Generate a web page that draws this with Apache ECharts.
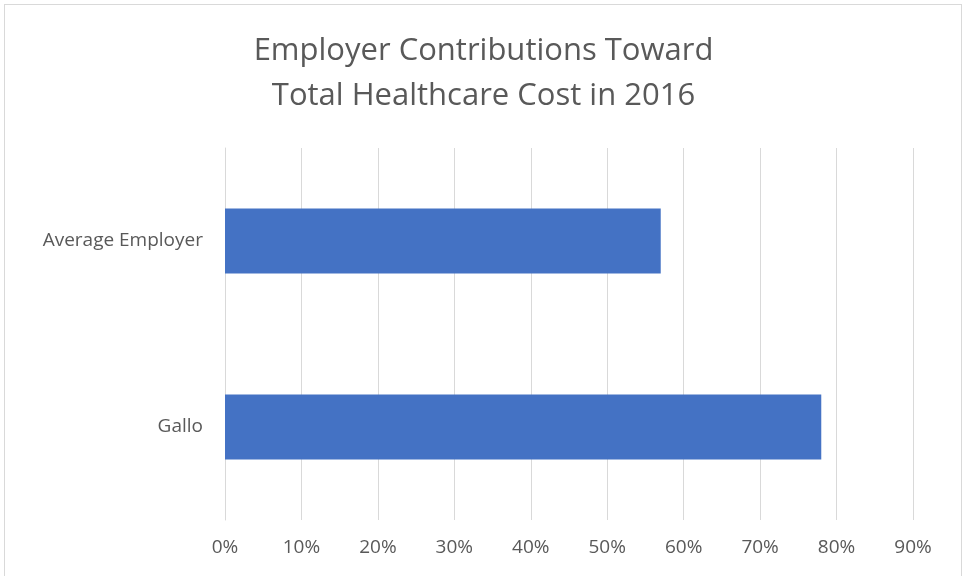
<!DOCTYPE html>
<html>
<head>
<meta charset="utf-8">
<script src="https://cdn.jsdelivr.net/npm/echarts@6/dist/echarts.min.js"></script>
<style>
html,body{margin:0;padding:0;background:#fff;}
#frame{position:absolute;left:4px;top:4px;width:958px;height:600px;border:1.5px solid #d9d9d9;box-sizing:border-box;}
#chart{position:absolute;left:0;top:0;width:967px;height:576px;}
</style>
</head>
<body>
<div id="frame"></div>
<div id="chart"></div>
<script>
const titleLines = ['Employer Contributions Toward', 'Total Healthcare Cost in 2016'];
const categories = ['Average Employer', 'Gallo'];
const values = [0.57, 0.78];
const tickMax = 0.9;
const tickStep = 0.1;

const chart = echarts.init(document.getElementById('chart'), null, {renderer: 'canvas'});
chart.setOption({
  backgroundColor: 'transparent',
  animation: false,
  title: {
    text: titleLines.join('\n'),
    left: 'center',
    top: 24,
    textStyle: {
      fontFamily: 'Open Sans',
      fontWeight: 'normal',
      fontSize: 31,
      color: '#595959',
      lineHeight: 45
    }
  },
  grid: {left: 225, right: 54, top: 148, bottom: 56, containLabel: false},
  xAxis: {
    type: 'value',
    min: 0,
    max: tickMax,
    interval: tickStep,
    axisLine: {show: false},
    axisTick: {show: false},
    splitLine: {show: true, lineStyle: {color: '#d9d9d9', width: 1}},
    axisLabel: {
      formatter: v => Math.round(v * 100) + '%',
      fontFamily: 'Open Sans',
      fontSize: 19,
      color: '#595959',
      margin: 18
    }
  },
  yAxis: {
    type: 'category',
    data: categories,
    inverse: true,
    axisLine: {show: true, lineStyle: {color: '#d9d9d9', width: 1}},
    axisTick: {show: false},
    axisLabel: {
      fontFamily: 'Open Sans',
      fontSize: 19,
      color: '#595959',
      margin: 22
    }
  },
  series: [{
    type: 'bar',
    data: values,
    barWidth: 65,
    itemStyle: {color: '#4472c4'}
  }]
});
</script>
</body>
</html>
